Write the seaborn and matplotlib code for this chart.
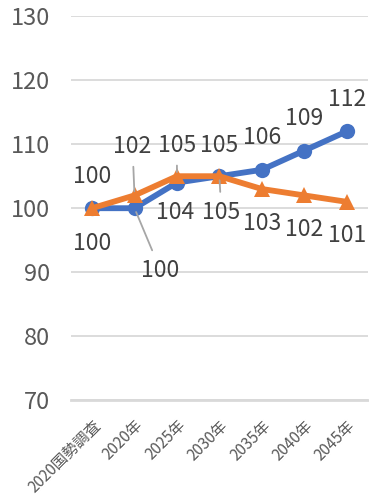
import matplotlib
matplotlib.use('Agg')
import matplotlib.pyplot as plt
import pandas as pd
import seaborn as sns

# データ
categories = ['2020国勢調査', '2020年', '2025年', '2030年', '2035年', '2040年', '2045年']
blue_values = [100, 100, 104, 105, 106, 109, 112]
orange_values = [100, 102, 105, 105, 103, 102, 101]
y_ticks = [70, 80, 90, 100, 110, 120, 130]

# データラベルの位置 (ピクセル単位のオフセット) と引き出し線の有無
blue_offsets = [(0, -35), (26, -62), (-2, -30), (2, -36), (0, 32), (0, 32), (0, 32)]
orange_offsets = [(0, 32), (-2, 49), (0, 31), (0, 31), (0, -34), (0, -34), (0, -34)]
blue_leaders = [False, True, False, True, False, False, False]
orange_leaders = [False, True, True, False, False, False, False]

BLUE = '#4472C4'
ORANGE = '#ED7D31'

sns.set_style('white')
plt.rcParams['font.family'] = ['Noto Sans CJK JP', 'DejaVu Sans']

df = pd.DataFrame({'cat': categories, 'blue': blue_values, 'orange': orange_values})

fig = plt.figure(figsize=(3.69, 4.99), dpi=100)
ax = fig.add_axes([0.192, 0.198, 0.805, 0.7695])

sns.lineplot(data=df, x='cat', y='blue', ax=ax, color=BLUE, lw=4.2,
             marker='o', markersize=11, markeredgewidth=0, sort=False)
sns.lineplot(data=df, x='cat', y='orange', ax=ax, color=ORANGE, lw=4.2,
             marker='^', markersize=11, markeredgewidth=0, sort=False)


# データラベル
def add_labels(values, offsets, leaders):
    for i, v in enumerate(values):
        kw = {}
        if leaders[i]:
            kw['arrowprops'] = dict(arrowstyle='-', color='#a6a6a6', lw=1.3,
                                    shrinkA=4, shrinkB=3)
        ax.annotate(str(v), xy=(i, v), xytext=offsets[i], textcoords='offset pixels',
                    ha='center', va='center', fontsize=16.5, color='#404040', **kw)


add_labels(blue_values, blue_offsets, blue_leaders)
add_labels(orange_values, orange_offsets, orange_leaders)

ax.set_xlim(-0.5, len(categories) - 0.5)
ax.set_ylim(70, 130)
ax.set_yticks(y_ticks)
ax.yaxis.grid(True, color='#d9d9d9', lw=1.3)
ax.set_axisbelow(True)
for side in ['top', 'right', 'left']:
    ax.spines[side].set_visible(False)
ax.spines['bottom'].set_color('#d9d9d9')
ax.spines['bottom'].set_linewidth(2)

ax.tick_params(axis='y', length=0, pad=15, labelsize=17, labelcolor='#595959')
ax.tick_params(axis='x', length=0, pad=12, labelsize=11, labelcolor='#595959')
plt.setp(ax.get_xticklabels(), rotation=45, ha='right', va='top', rotation_mode='anchor')
ax.set_xlabel('')
ax.set_ylabel('')

fig.savefig('out.png', dpi=100)
plt.close(fig)
